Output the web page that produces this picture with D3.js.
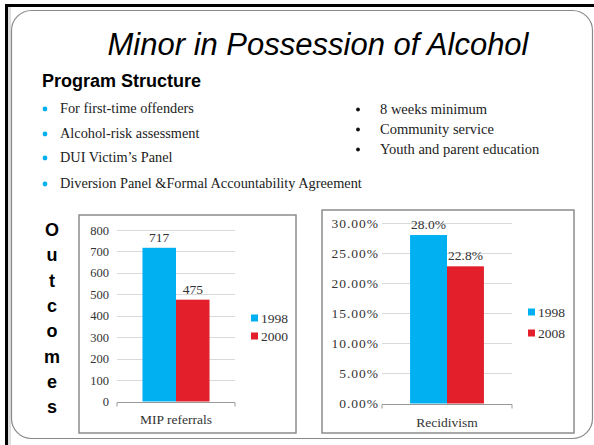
<!DOCTYPE html>
<html><head><meta charset="utf-8">
<script src="https://d3js.org/d3.v7.min.js"></script>
<style>
html,body{margin:0;padding:0;background:#fff;}
svg{display:block;}
</style></head>
<body>
<script>
// ---- data ----
const titleText = "Minor in Possession of Alcohol";
const subTitle = "Program Structure";
const bulletsLeft = ["For first-time offenders","Alcohol-risk assessment","DUI Victim\u2019s Panel","Diversion Panel &Formal Accountability Agreement"];
const bulletsRight = ["8 weeks minimum","Community service","Youth and parent education"];
const sideWord = "Outcomes";

const mipCategories = ["MIP referrals"];
const mipSeries = ["1998","2000"];
const mipValues = [717, 475];
const mipTicks = [0,100,200,300,400,500,600,700,800];

const recCategories = ["Recidivism"];
const recSeries = ["1998","2008"];
const recValues = [28.0, 22.8];
const recTicks = [0,5,10,15,20,25,30];

const colors = ["#00B0F0","#E21F2B"];

const W = 594, H = 445;
const svg = d3.select("body").append("svg").attr("width", W).attr("height", H);

// frame
svg.append("rect").attr("x",0).attr("y",0).attr("width",W).attr("height",H).attr("fill","#fff");
svg.append("line").attr("x1",6).attr("x2",W).attr("y1",5.5).attr("y2",5.5).attr("stroke","#000").attr("stroke-width",3);
svg.append("line").attr("x1",6.5).attr("x2",6.5).attr("y1",4).attr("y2",H).attr("stroke","#000").attr("stroke-width",3);
svg.append("rect").attr("x",8).attr("y",7).attr("width",3).attr("height",H).attr("fill","#ddd");
svg.append("rect").attr("x",11.5).attr("y",10.5).attr("width",581).attr("height",428).attr("rx",20).attr("ry",20)
  .attr("fill","#fff").attr("stroke","#8a8a8a").attr("stroke-width",1.2);

// title
svg.append("text").attr("x",318).attr("y",55).attr("text-anchor","middle")
  .attr("font-family","Liberation Sans, Arial, sans-serif").attr("font-style","italic")
  .attr("font-size",31).attr("fill","#000").text(titleText);

svg.append("text").attr("x",42).attr("y",87)
  .attr("font-family","Liberation Sans Narrow, Arial Narrow, Liberation Sans, sans-serif").attr("font-weight","bold")
  .attr("font-size",18).attr("fill","#000").text(subTitle);

const serif = "Liberation Serif, Times New Roman, serif";
const leftY = [113,138,162,188];
bulletsLeft.forEach((t,i)=>{
  svg.append("circle").attr("cx",45).attr("cy",leftY[i]-4).attr("r",2.4).attr("fill","#00B0F0");
  svg.append("text").attr("x",60).attr("y",leftY[i]).attr("font-family",serif).attr("font-size",14.3).attr("fill","#222").text(t);
});
const rightY = [114,134,154];
bulletsRight.forEach((t,i)=>{
  svg.append("circle").attr("cx",358).attr("cy",rightY[i]-4.5).attr("r",1.9).attr("fill","#111");
  svg.append("text").attr("x",380).attr("y",rightY[i]).attr("font-family",serif).attr("font-size",14.5).attr("fill","#222").text(t);
});

// Outcomes vertical
sideWord.split("").forEach((c,i)=>{
  svg.append("text").attr("x",52).attr("y",236+i*25.3).attr("text-anchor","middle")
    .attr("font-family","Liberation Sans, Arial, sans-serif").attr("font-weight","bold")
    .attr("font-size",18).attr("fill","#000").text(c);
});

function barChart(opt){
  const g = svg.append("g");
  g.append("rect").attr("x",opt.box[0]).attr("y",opt.box[1]).attr("width",opt.box[2]).attr("height",opt.box[3])
    .attr("fill","#fff").attr("stroke","#8c8c8c").attr("stroke-width",1.5);
  const y = d3.scaleLinear().domain(opt.domain).range([opt.y0, opt.y1]);
  const x = d3.scaleBand().domain(opt.categories).range([opt.x0, opt.x1]).paddingInner(0).paddingOuter(0.38);
  const xs = d3.scaleBand().domain(opt.series).range([0, x.bandwidth()]);
  // gridlines
  g.append("g").selectAll("line").data(opt.ticks.slice(1)).join("line")
    .attr("x1",opt.x0).attr("x2",opt.x1).attr("y1",d=>Math.round(y(d))+0.5).attr("y2",d=>Math.round(y(d))+0.5)
    .attr("stroke","#d9d9d9").attr("stroke-width",1);
  // y axis labels
  const ax = g.append("g").attr("transform",`translate(${opt.x0},0)`)
    .call(d3.axisLeft(y).tickValues(opt.ticks).tickSize(0).tickPadding(opt.pad).tickFormat(opt.fmt));
  ax.select(".domain").remove();
  ax.selectAll("text").attr("font-family",serif).attr("font-size",opt.tickSize).attr("letter-spacing",opt.tickLS).attr("fill","#333");
  // bars
  g.append("g").selectAll("rect").data(opt.values).join("rect")
    .attr("x",(d,i)=>x(opt.categories[0])+xs(opt.series[i]))
    .attr("width",xs.bandwidth())
    .attr("y",d=>y(d)).attr("height",d=>y(0)-y(d))
    .attr("fill",(d,i)=>colors[i]);
  // x axis
  const xa = g.append("g").attr("transform",`translate(0,${Math.round(y(0))+0.5})`)
    .call(d3.axisBottom(x).tickSize(0).tickPadding(opt.xpad));
  xa.select(".domain").attr("stroke","#999").attr("d",`M${opt.x0},4V0H${opt.x1}V4`);
  xa.selectAll("text").attr("font-family",serif).attr("font-size",13.5).attr("fill","#333");
  // data labels
  g.append("g").selectAll("text").data(opt.values).join("text")
    .attr("x",(d,i)=>x(opt.categories[0])+xs(opt.series[i])+xs.bandwidth()/2)
    .attr("y",d=>y(d)-6).attr("text-anchor","middle")
    .attr("font-family",serif).attr("font-size",13.5).attr("fill","#333")
    .text(opt.lblFmt);
  // legend
  opt.series.forEach((s,i)=>{
    g.append("rect").attr("x",opt.lx).attr("y",opt.ly[i]-3.5).attr("width",7).attr("height",7).attr("fill",colors[i]);
    g.append("text").attr("x",opt.lx+10).attr("y",opt.ly[i]+4.5).attr("font-family",serif).attr("font-size",13.5).attr("fill","#333").text(s);
  });
}

barChart({box:[79,215,217,218], domain:[0,800], y0:401.5, y1:230, x0:117, x1:235,
  categories:mipCategories, series:mipSeries, values:mipValues, ticks:mipTicks, pad:8, xpad:12,
  tickSize:12.5, tickLS:0,
  fmt:d3.format("d"), lblFmt:d=>d, lx:251, ly:[318,336]});

barChart({box:[322,210,252,223], domain:[0,30], y0:403.5, y1:223, x0:382, x1:512,
  categories:recCategories, series:recSeries, values:recValues, ticks:recTicks, pad:3, xpad:13,
  tickSize:13.5, tickLS:1,
  fmt:d=>d.toFixed(2)+"%", lblFmt:d=>d.toFixed(1)+"%", lx:528, ly:[312,333]});
</script>
</body></html>
